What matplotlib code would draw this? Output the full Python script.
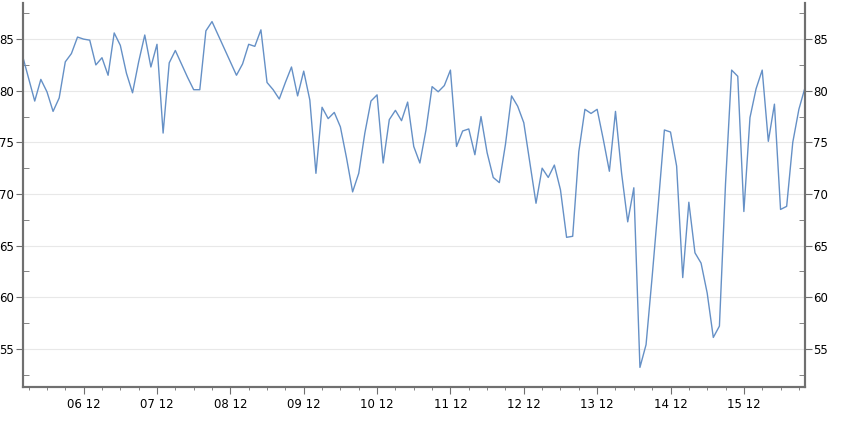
import matplotlib
matplotlib.use("Agg")
import matplotlib.pyplot as plt
import numpy as np
from matplotlib.ticker import MultipleLocator

# readings every 2 hours, from day 05 16:00 to day 16 08:00
values = [
    83.4, 81.2, 79.0, 81.1, 79.9, 78.0, 79.3, 82.8, 83.6, 85.2,
    85.0, 84.9, 82.5, 83.2, 81.5, 85.6, 84.4, 81.7, 79.8, 82.8,
    85.4, 82.3, 84.5, 75.9, 82.7, 83.9, 82.6, 81.3, 80.1, 80.1,
    85.8, 86.7, 85.4, 84.1, 82.8, 81.5, 82.6, 84.5, 84.3, 85.9,
    80.8, 80.1, 79.2, 80.8, 82.3, 79.5, 81.9, 79.1, 72.0, 78.4,
    77.3, 77.9, 76.5, 73.5, 70.2, 72.0, 75.9, 79.0, 79.6, 73.0,
    77.2, 78.1, 77.1, 78.9, 74.6, 73.0, 76.2, 80.4, 79.9, 80.5,
    82.0, 74.6, 76.1, 76.3, 73.8, 77.5, 74.0, 71.6, 71.1, 74.8,
    79.5, 78.5, 76.9, 73.0, 69.1, 72.5, 71.6, 72.8, 70.4, 65.8,
    65.9, 74.1, 78.2, 77.8, 78.2, 75.3, 72.2, 78.0, 72.0, 67.3,
    70.6, 53.2, 55.4, 62.0, 69.0, 76.2, 76.0, 72.7, 61.9, 69.2,
    64.3, 63.3, 60.4, 56.1, 57.2, 71.0, 82.0, 81.4, 68.3, 77.4,
    80.2, 82.0, 75.1, 78.7, 68.5, 68.8, 75.0, 78.2, 80.3,
]
tick_labels = ["06 12", "07 12", "08 12", "09 12", "10 12",
               "11 12", "12 12", "13 12", "14 12", "15 12"]

x = np.arange(len(values))
major_pos = [10 + 12 * i for i in range(len(tick_labels))]

fig = plt.figure(figsize=(8.41, 4.22), dpi=100)
ax = fig.add_axes([22.5 / 841, 1 - 387 / 422, (805 - 22.5) / 841, 384 / 422])
ax.plot(x, values, color="#6590c6", lw=1.0)

ax.set_xlim(0, len(values) - 1)
ax.set_ylim(51.3, 88.5)
ax.set_xticks(major_pos)
ax.set_xticklabels(tick_labels, fontsize=8.5)
ax.set_xticks(np.arange(1, len(values), 3), minor=True)

ax.yaxis.set_major_locator(MultipleLocator(5))
ax.yaxis.set_minor_locator(MultipleLocator(2.5))
ax.grid(axis="y", color="#e8e8e8", lw=0.8)
ax.set_axisbelow(True)

ax2 = ax.twinx()
ax2.set_ylim(ax.get_ylim())
ax2.yaxis.set_major_locator(MultipleLocator(5))
ax2.yaxis.set_minor_locator(MultipleLocator(2.5))

spine_col = "#707070"
for a in (ax, ax2):
    a.spines["top"].set_visible(False)
    for s in ("left", "right", "bottom"):
        a.spines[s].set_color(spine_col)
        a.spines[s].set_linewidth(1.5)
    a.tick_params(axis="y", which="major", direction="out", length=5,
                  color=spine_col, labelsize=8.5, pad=1)
    a.tick_params(axis="y", which="minor", direction="in", length=4,
                  color=spine_col)
ax.tick_params(axis="x", which="major", direction="out", length=5,
               color=spine_col, pad=3)
ax.tick_params(axis="x", which="minor", direction="out", length=2.5,
               color=spine_col)

fig.savefig("out.png", dpi=100)
